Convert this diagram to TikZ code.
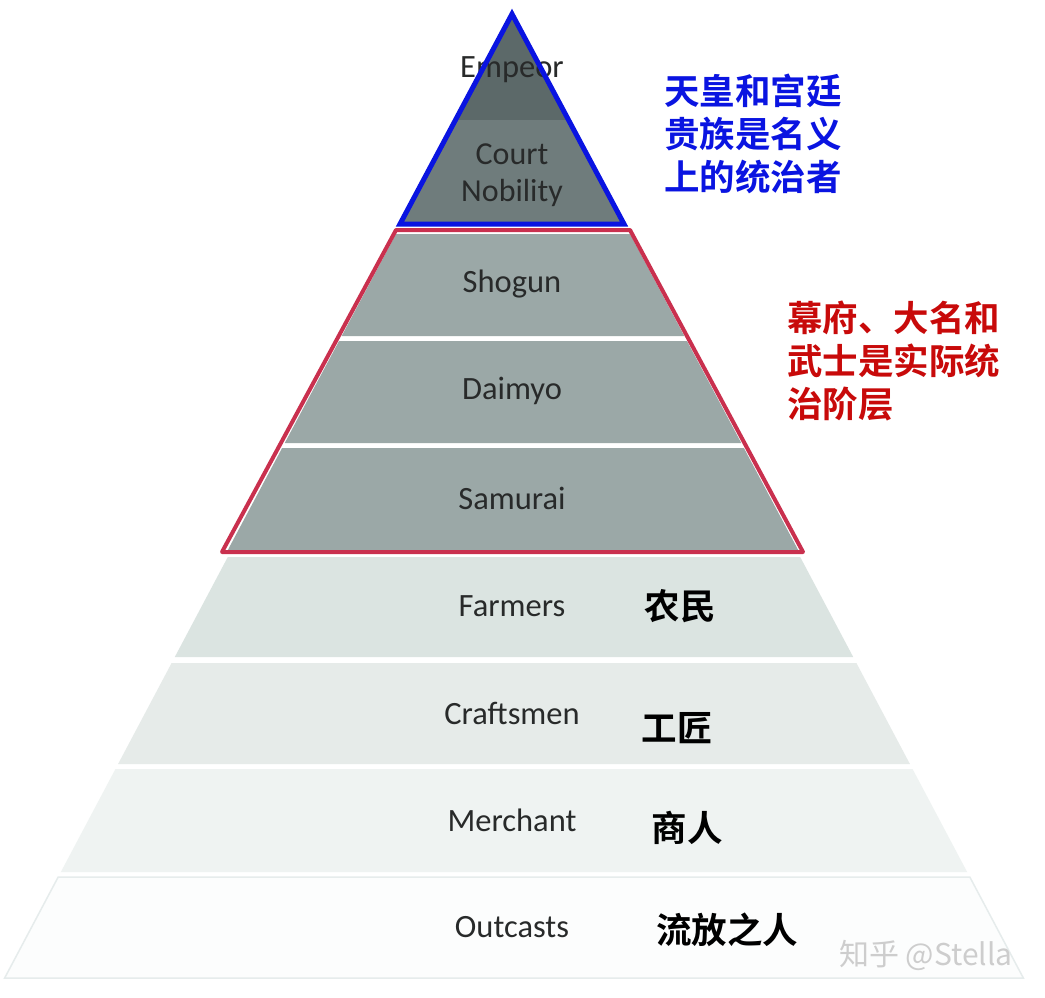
\documentclass[tikz,border=0pt]{standalone}
\usepackage{fontspec}
\setmainfont{Carlito}
\newfontfamily\cjk{Noto Sans CJK SC}
\newfontfamily\cjkb{Noto Sans CJK SC Bold}
\definecolor{cEmp}{RGB}{92,105,105}
\definecolor{cCourt}{RGB}{111,124,124}
\definecolor{cWar}{RGB}{155,168,167}
\definecolor{cFarm}{RGB}{219,228,225}
\definecolor{cCraft}{RGB}{230,235,233}
\definecolor{cMerch}{RGB}{239,243,242}
\definecolor{cOut}{RGB}{252,253,253}
\definecolor{cBlue}{RGB}{10,20,225}
\definecolor{cRedLine}{RGB}{201,48,78}
\definecolor{cRedText}{RGB}{200,10,10}
\definecolor{cTxt}{RGB}{40,42,42}
\newcommand\pyrlayer[3]{%
  \fill[#3] ({513-0.532*(#1-14)},#1) -- ({513+0.532*(#1-14)},#1) -- ({513+0.532*(#2-14)},#2) -- ({513-0.532*(#2-14)},#2) -- cycle;}
\newcommand\lowlayer[3]{%
  \fill[#3] ({514-0.53*(#1-17)},#1) -- ({514+0.53*(#1-17)},#1) -- ({514+0.53*(#2-17)},#2) -- ({514-0.53*(#2-17)},#2) -- cycle;}
\tikzset{
  lbl/.style={font=\fontsize{32.5}{38}\selectfont, text=cTxt, align=center, inner sep=0pt},
  zh/.style={font=\cjkb\fontsize{35.5}{42}\selectfont, text=black, inner sep=0pt},
  note/.style={font=\cjkb\fontsize{35.5}{43}\selectfont, align=left, inner sep=0pt, anchor=north west},
}
\begin{document}
\begin{tikzpicture}[x=1pt,y=-1pt]
\useasboundingbox (0,0) rectangle (1045,998);
\fill[white] (0,0) rectangle (1045,998);
% layers
\fill[cEmp] (512,14) -- ({513+0.532*(120-14)},120) -- ({513-0.532*(120-14)},120) -- cycle;
\pyrlayer{120}{224}{cCourt}
\pyrlayer{234}{336}{cWar}
\pyrlayer{341}{443}{cWar}
\pyrlayer{448}{551}{cWar}
\lowlayer{557}{657}{cFarm}
\lowlayer{663}{764}{cCraft}
\lowlayer{769}{872}{cMerch}
\fill[cOut, draw={rgb,255:red,230;green,236;blue,236}, line width=1.5pt]
  ({514-0.53*(877-17)},877) -- ({514+0.53*(877-17)},877) -- ({514+0.53*(978-17)},978) -- ({514-0.53*(978-17)},978) -- cycle;
% English labels
\node[lbl] (emp) at (512,70) {Empeor};
\node[lbl, font=\fontsize{32}{37}\selectfont] (court) at (512,175) {Court\\Nobility};
\node[lbl] (sho) at (512,284) {Shogun};
\node[lbl] (dai) at (512,391) {Daimyo};
\node[lbl] (sam) at (512,498) {Samurai};
\node[lbl] (far) at (512,606) {Farmers};
\node[lbl] (cra) at (512,713) {Craftsmen};
\node[lbl] (mer) at (512,820) {Merchant};
\node[lbl] (out) at (512,927) {Outcasts};
% outlines
\draw[cBlue, line width=5pt, line join=miter] (512,14) -- (624,224) -- (400,224) -- cycle;
\draw[cRedLine, line width=4pt, line join=round] (396,230) -- (630,230) -- (803,552) -- (222,552) -- cycle;
% Chinese labels
\node[zh] (zfar) at (680,606) {农民};
\node[zh] (zcra) at (677,728) {工匠};
\node[zh] (zmer) at (687,828) {商人};
\node[zh] (zout) at (727,930) {流放之人};
% notes
\node[note, text=cBlue] (nb) at (664,74) {天皇和宫廷\\贵族是名义\\上的统治者};
\node[note, text=cRedText] (nr) at (787,301) {幕府、大名和\\武士是实际统\\治阶层};
% watermark
\node[font=\cjk\fontsize{30}{36}\selectfont, text={rgb,255:red,205;green,205;blue,205}, inner sep=0pt] (wm) at (926,955) {知乎 @Stella};
\end{tikzpicture}
\end{document}
